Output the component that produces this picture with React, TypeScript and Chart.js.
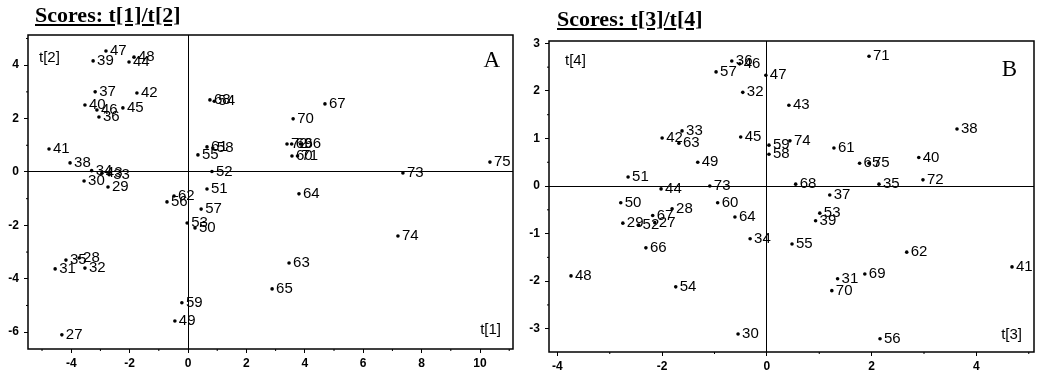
import React, { useEffect, useRef } from "react";
import { Chart, registerables } from "chart.js";

Chart.register(...registerables);

// ---------- Data: Scores t[1]/t[2] (panel A) ----------
const labelsA = [
  "27", "28", "29", "30", "31", "32", "33", "34", "35", "36", "37", "38", "39", "40", "41", "42", "43",
  "44", "45", "46", "47", "48", "49", "50", "51", "52", "53", "54", "55", "56", "57", "58", "59", "60",
  "61", "62", "63", "64", "65", "66", "67", "68", "69", "70", "71", "72", "73", "74", "75",
];
const t1 = [
  -4.32, -3.73, -2.74, -3.56, -4.55, -3.53, -2.7, -3.3, -4.18, -3.05, -3.18, -4.04, -3.25, -3.53, -4.76, -1.75, -2.95,
  -2.02, -2.23, -3.12, -2.81, -1.85, -0.45, 0.24, 0.65, 0.82, -0.03, 0.9, 0.34, -0.72, 0.45, 0.85, -0.21, 3.56,
  0.65, -0.48, 3.46, 3.8, 2.88, 3.85, 4.69, 0.75, 3.55, 3.6, 3.75, 3.39, 7.36, 7.19, 10.34,
];
const t2 = [
  -6.1, -3.22, -0.56, -0.34, -3.63, -3.6, -0.1, 0.05, -3.3, 2.06, 3.0, 0.34, 4.16, 2.51, 0.86, 2.96, -0.05,
  4.12, 2.4, 2.32, 4.53, 4.3, -5.58, -2.1, -0.64, 0.02, -1.91, 2.65, 0.64, -1.12, -1.39, 0.9, -4.9, 0.6,
  0.94, -0.9, -3.41, -0.82, -4.38, 1.05, 2.55, 2.7, 1.05, 1.99, 0.6, 1.05, -0.04, -2.4, 0.37,
];
const ticksT1 = [-4, -2, 0, 2, 4, 6, 8, 10];
const ticksT2 = [-6, -4, -2, 0, 2, 4];
const minorT1 = [-5, -3, -1, 1, 3, 5, 7, 9, 11];
const minorT2 = [-5, -3, -1, 1, 3, 5];

// ---------- Data: Scores t[3]/t[4] (panel B) ----------
const labelsB = labelsA;
const t3 = [
  -2.14, -1.81, -2.75, -0.55, 1.35, -0.46, -1.62, -0.32, 2.14, -0.67, 1.2, 3.63, 0.93, 2.9, 4.68, -2.0, 0.42,
  -2.02, -0.5, -0.52, -0.02, -3.74, -1.32, -2.79, -2.65, -2.45, 1.01, -1.74, 0.48, 2.16, -0.97, 0.04, 0.04, -0.94,
  1.28, 2.67, -1.68, -0.61, 1.77, -2.31, -2.18, 0.55, 1.87, 1.24, 1.95, 2.98, -1.09, 0.44, 1.95,
];
const t4 = [
  -0.77, -0.48, -0.78, -3.11, -1.95, 1.97, 1.16, -1.11, 0.04, 2.63, -0.19, 1.2, -0.73, 0.6, -1.7, 1.01, 1.7,
  -0.06, 1.03, 2.57, 2.33, -1.89, 0.5, -0.35, 0.19, -0.82, -0.57, -2.12, -1.22, -3.21, 2.4, 0.67, 0.86, -0.35,
  0.8, -1.39, 0.9, -0.65, 0.48, -1.3, -0.62, 0.04, -1.85, -2.2, 2.73, 0.13, 0.0, 0.95, 0.48,
];
const ticksT3 = [-4, -2, 0, 2, 4];
const ticksT4 = [-3, -2, -1, 0, 1, 2, 3];
const minorT3 = [-3, -1, 1, 3, 5];
const minorT4 = [-3.5, -2.5, -1.5, -0.5, 0.5, 1.5, 2.5];

const SANS = '"Liberation Sans", Arial, sans-serif';
const SERIF = '"Liberation Serif", "Times New Roman", serif';

const decorPlugin = {
  id: "decor",
  afterDatasetsDraw(chart: any, _args: any, opts: any) {
    const ctx = chart.ctx;
    const area = chart.chartArea;
    const meta = chart.getDatasetMeta(0);
    ctx.save();
    // point labels
    ctx.font = `15px ${SANS}`;
    ctx.fillStyle = "#000";
    ctx.textBaseline = "middle";
    ctx.textAlign = "left";
    meta.data.forEach((el: any, i: number) => {
      ctx.fillText(opts.labels[i], el.x + 4, el.y);
    });
    // frame
    ctx.strokeStyle = "#000";
    ctx.lineWidth = 1.5;
    ctx.strokeRect(area.left, area.top, area.right - area.left, area.bottom - area.top);
    // minor ticks
    ctx.lineWidth = 1;
    const xs = chart.scales.x;
    const ys = chart.scales.y;
    ctx.beginPath();
    opts.minorX.forEach((v: number) => {
      const px = xs.getPixelForValue(v);
      if (px > area.left && px < area.right) {
        ctx.moveTo(px, area.bottom);
        ctx.lineTo(px, area.bottom + 2);
      }
    });
    opts.minorY.forEach((v: number) => {
      const py = ys.getPixelForValue(v);
      if (py > area.top && py < area.bottom) {
        ctx.moveTo(area.left, py);
        ctx.lineTo(area.left - 2, py);
      }
    });
    ctx.stroke();
    // axis captions
    ctx.font = `15px ${SANS}`;
    ctx.textAlign = "left";
    ctx.fillText(opts.yName, area.left + opts.yNameDx, area.top + opts.yNameDy);
    ctx.textAlign = "right";
    ctx.fillText(opts.xName, area.right - 12, area.bottom - opts.xNameDy);
    ctx.font = `23px ${SERIF}`;
    ctx.fillText(opts.letter, area.right - opts.letterDx, area.top + opts.letterDy);
    ctx.restore();
  },
};

function makeConfig(p: any) {
  const gridColor = (c: any) => (c.tick && c.tick.value === 0 ? "#000" : "rgba(0,0,0,0)");
  return {
    type: "scatter",
    data: {
      datasets: [
        {
          data: p.xs.map((x: number, i: number) => ({ x, y: p.ys[i] })),
          pointRadius: 1.8,
          pointBackgroundColor: "#000",
          pointBorderColor: "#000",
          pointBorderWidth: 0,
        },
      ],
    },
    options: {
      responsive: false,
      animation: false,
      devicePixelRatio: 1,
      layout: { padding: { top: p.padTop, right: p.padRight, left: 0, bottom: 0 } },
      plugins: {
        legend: { display: false },
        tooltip: { enabled: false },
        decor: {
          labels: p.labels,
          minorX: p.minorX,
          minorY: p.minorY,
          xName: p.xName,
          yName: p.yName,
          letter: p.letter,
          yNameDx: p.yNameDx,
          yNameDy: p.yNameDy,
          xNameDy: p.xNameDy,
          letterDx: p.letterDx,
          letterDy: p.letterDy,
        },
      },
      scales: {
        x: {
          type: "linear",
          min: p.xMin,
          max: p.xMax,
          afterBuildTicks: (s: any) => {
            s.ticks = p.xTicks.map((v: number) => ({ value: v }));
          },
          afterFit: (s: any) => {
            s.height = p.xAxisH;
          },
          grid: { color: gridColor, tickColor: "#000", tickLength: 4, lineWidth: 1 },
          border: { display: false },
          ticks: {
            color: "#000",
            font: { family: SANS, size: 12, weight: "bold" },
            padding: 3,
            maxRotation: 0,
            autoSkip: false,
          },
        },
        y: {
          type: "linear",
          min: p.yMin,
          max: p.yMax,
          afterBuildTicks: (s: any) => {
            s.ticks = p.yTicks.map((v: number) => ({ value: v }));
          },
          afterFit: (s: any) => {
            s.width = p.yAxisW;
          },
          grid: { color: gridColor, tickColor: "#000", tickLength: 4, lineWidth: 1 },
          border: { display: false },
          ticks: {
            color: "#000",
            font: { family: SANS, size: 12, weight: "bold" },
            padding: 5,
            autoSkip: false,
          },
        },
      },
    },
    plugins: [decorPlugin],
  };
}

function Panel(props: { cfg: any; left: number; width: number }) {
  const ref = useRef<HTMLCanvasElement | null>(null);
  useEffect(() => {
    if (!ref.current) return;
    const chart = new Chart(ref.current, props.cfg as any);
    return () => chart.destroy();
  }, []);
  return (
    <canvas
      ref={ref}
      width={props.width}
      height={377}
      style={{ position: "absolute", left: props.left, top: 0, width: props.width, height: 377 }}
    />
  );
}

const cfgA = makeConfig({
  xs: t1,
  ys: t2,
  labels: labelsA,
  xMin: -5.48,
  xMax: 11.13,
  yMin: -6.63,
  yMax: 5.13,
  xTicks: ticksT1,
  yTicks: ticksT2,
  minorX: minorT1,
  minorY: minorT2,
  padTop: 35,
  padRight: 7,
  xAxisH: 28,
  yAxisW: 28,
  xName: "t[1]",
  yName: "t[2]",
  letter: "A",
  yNameDx: 11,
  yNameDy: 23,
  xNameDy: 19,
  letterDx: 13,
  letterDy: 26,
});

const cfgB = makeConfig({
  xs: t3,
  ys: t4,
  labels: labelsB,
  xMin: -4.16,
  xMax: 5.1,
  yMin: -3.49,
  yMax: 3.05,
  xTicks: ticksT3,
  yTicks: ticksT4,
  minorX: minorT3,
  minorY: minorT4,
  padTop: 41,
  padRight: 7,
  xAxisH: 25,
  yAxisW: 29,
  xName: "t[3]",
  yName: "t[4]",
  letter: "B",
  yNameDx: 16,
  yNameDy: 20,
  xNameDy: 17,
  letterDx: 17,
  letterDy: 29,
});

const titleStyle: React.CSSProperties = {
  position: "absolute",
  fontFamily: SERIF,
  fontWeight: "bold",
  fontSize: 22,
  lineHeight: "24px",
  textDecoration: "underline",
  color: "#000",
  whiteSpace: "nowrap",
};

export default function App() {
  return (
    <div style={{ position: "absolute", left: 0, top: 0, width: 1041, height: 377, background: "#fff" }}>
      <Panel cfg={cfgA} left={0} width={520} />
      <Panel cfg={cfgB} left={520} width={521} />
      <div style={{ ...titleStyle, left: 35, top: 3 }}>Scores: t[1]/t[2]</div>
      <div style={{ ...titleStyle, left: 557, top: 7 }}>Scores: t[3]/t[4]</div>
    </div>
  );
}
